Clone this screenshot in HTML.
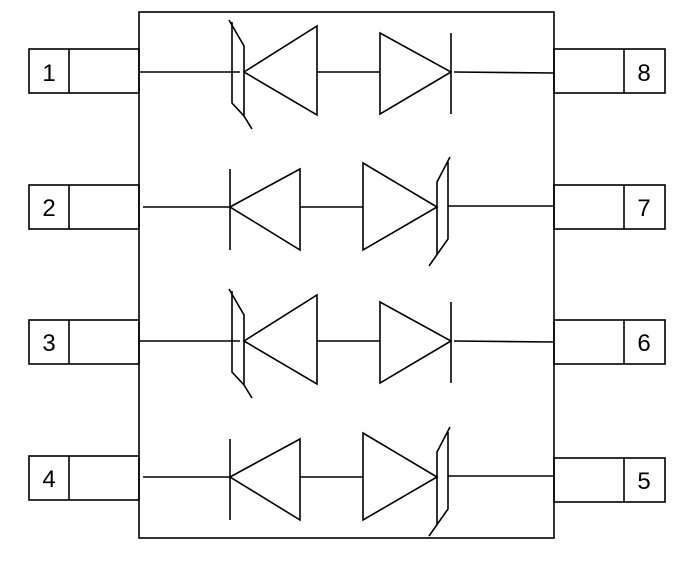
<!DOCTYPE html><html><head><style>html,body{margin:0;padding:0;background:#fff}</style></head><body>
<svg width="687" height="569" viewBox="0 0 687 569" xmlns="http://www.w3.org/2000/svg" style="display:block">
<defs>
<g id="ra" fill="none" stroke="#000" stroke-width="1.6">
<line x1="139" y1="0" x2="240" y2="0"/>
<polyline points="229,-52 244,-26 244,44 252,57"/>
<polyline points="232,-50 232,31 244,44"/>
<polygon points="244,0 317,-46 317,43"/>
<line x1="317" y1="0" x2="380" y2="0"/>
<polygon points="380,-39 451,0 380,42"/>
<line x1="451" y1="-39" x2="451" y2="42"/>
<line x1="454" y1="0" x2="554" y2="1"/>
</g>
<g id="rb" fill="none" stroke="#000" stroke-width="1.6">
<line x1="143" y1="0" x2="230" y2="0"/>
<line x1="230" y1="-38" x2="230" y2="43"/>
<polygon points="230,0 300,-38 300,43"/>
<line x1="300" y1="0" x2="363" y2="0"/>
<polygon points="363,-44 437,0 363,43"/>
<polyline points="450,-50 437,-25 437,48"/>
<polyline points="448,-45 448,32 429,59"/>
<line x1="448" y1="-1" x2="554" y2="-1"/>
</g>
</defs>
<rect x="139" y="12" width="415" height="526" fill="none" stroke="#000" stroke-width="1.6"/>
<use href="#ra" y="72"/>
<use href="#rb" y="207"/>
<use href="#ra" y="341"/>
<use href="#rb" y="477"/>
<g fill="none" stroke="#000" stroke-width="1.6">
<rect x="29" y="49" width="110" height="44"/><line x1="69" y1="49" x2="69" y2="93"/>
<rect x="29" y="185" width="110" height="44"/><line x1="69" y1="185" x2="69" y2="229"/>
<rect x="29" y="320" width="110" height="44"/><line x1="69" y1="320" x2="69" y2="364"/>
<rect x="29" y="456" width="110" height="44"/><line x1="69" y1="456" x2="69" y2="500"/>
<rect x="554" y="49" width="111" height="44"/><line x1="624" y1="49" x2="624" y2="93"/>
<rect x="554" y="185" width="111" height="44"/><line x1="624" y1="185" x2="624" y2="229"/>
<rect x="554" y="320" width="111" height="44"/><line x1="624" y1="320" x2="624" y2="364"/>
<rect x="554" y="458" width="111" height="44"/><line x1="624" y1="458" x2="624" y2="502"/>
</g>
<g font-family="Liberation Sans, sans-serif" font-size="24" text-anchor="middle">
<text x="49" y="81">1</text><text x="49" y="216">2</text><text x="49" y="351">3</text><text x="49" y="487">4</text>
<text x="644" y="81">8</text><text x="644" y="216">7</text><text x="644" y="351">6</text><text x="644" y="489">5</text>
</g>
</svg>
</body></html>
